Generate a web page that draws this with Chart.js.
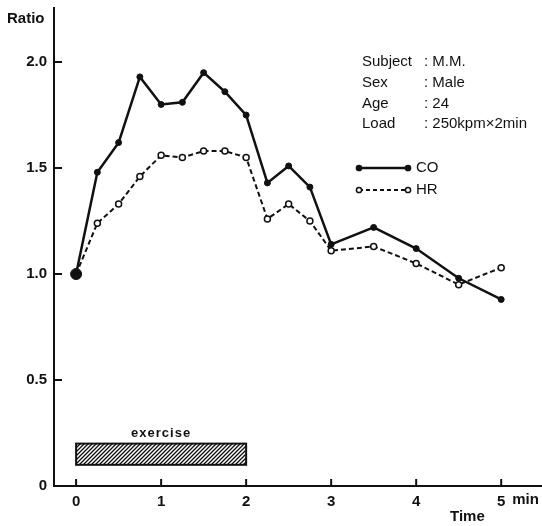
<!DOCTYPE html>
<html lang="en">
<head>
<meta charset="UTF-8">
<title>CO / HR ratio during exercise</title>
<script src="https://cdn.jsdelivr.net/npm/chart.js"></script>
<style>
    html, body {
        margin: 0;
        padding: 0;
        background: #fff;
        overflow: hidden;
    }

    canvas {
        display: block;
    }
</style>
</head>
<body>
<canvas id="ratioChart" width="542" height="526"></canvas>
<script>
// data
const timeMin = [0, 0.25, 0.5, 0.75, 1, 1.25, 1.5, 1.75, 2, 2.25, 2.5, 2.75, 3, 3.5, 4, 4.5, 5];
const coRatio = [1.0, 1.48, 1.62, 1.93, 1.80, 1.81, 1.95, 1.86, 1.75, 1.43, 1.51, 1.41, 1.14, 1.22, 1.12, 0.98, 0.88];
const hrRatio = [1.0, 1.24, 1.33, 1.46, 1.56, 1.55, 1.58, 1.58, 1.55, 1.26, 1.33, 1.25, 1.11, 1.13, 1.05, 0.95, 1.03];
const yTicks = [0, 0.5, 1.0, 1.5, 2.0];
const yTickLabels = ['0', '0.5', '1.0', '1.5', '2.0'];
const xTicks = [0, 1, 2, 3, 4, 5];
const exercisePeriod = [0, 2];
const exerciseBand = [0.1, 0.2];
const infoLabels = ['Subject', 'Sex', 'Age', 'Load'];
const infoValues = ['M.M.', 'Male', '24', '250kpm\u00d72min'];

const ink = '#111';
const fontFam = '"Liberation Sans", Arial, sans-serif';

function hatchPattern(ctx) {
    const c = document.createElement('canvas');
    c.width = 4;
    c.height = 4;
    const p = c.getContext('2d');
    p.strokeStyle = ink;
    p.lineWidth = 1.3;
    p.beginPath();
    p.moveTo(-1, 5); p.lineTo(5, -1);
    p.moveTo(-1, 1); p.lineTo(1, -1);
    p.moveTo(3, 5); p.lineTo(5, 3);
    p.stroke();
    return ctx.createPattern(c, 'repeat');
}

const decorations = {
    id: 'decorations',
    afterDatasetsDraw(chart) {
        const ctx = chart.ctx;
        const xs = chart.scales.x;
        const ys = chart.scales.y;
        ctx.save();

        // inward tick marks
        ctx.strokeStyle = ink;
        ctx.lineWidth = 2;
        ctx.beginPath();
        yTicks.forEach(v => {
            const py = ys.getPixelForValue(v);
            ctx.moveTo(xs.left, py);
            ctx.lineTo(xs.left + 8, py);
        });
        xTicks.forEach(v => {
            const px = xs.getPixelForValue(v);
            ctx.moveTo(px, ys.bottom);
            ctx.lineTo(px, ys.bottom - 7);
        });
        ctx.stroke();

        // exercise box
        const x0 = xs.getPixelForValue(exercisePeriod[0]);
        const x1 = xs.getPixelForValue(exercisePeriod[1]);
        const yTop = ys.getPixelForValue(exerciseBand[1]);
        const yBot = ys.getPixelForValue(exerciseBand[0]);
        ctx.fillStyle = hatchPattern(ctx);
        ctx.fillRect(x0, yTop, x1 - x0, yBot - yTop);
        ctx.lineWidth = 2;
        ctx.strokeRect(x0, yTop, x1 - x0, yBot - yTop);

        ctx.fillStyle = ink;
        ctx.font = 'bold 13px ' + fontFam;
        ctx.letterSpacing = '1px';
        ctx.textAlign = 'center';
        ctx.textBaseline = 'bottom';
        ctx.fillText('exercise', (x0 + x1) / 2, yTop - 4);
        ctx.letterSpacing = '0px';

        // axis titles
        ctx.font = 'bold 15px ' + fontFam;
        ctx.textAlign = 'left';
        ctx.textBaseline = 'middle';
        ctx.fillText('Ratio', 7, 19);
        ctx.fillText('Time', 450, 517);
        ctx.fillText('min', xs.getPixelForValue(5) + 11, 500);

        // subject info
        ctx.font = '15px ' + fontFam;
        infoLabels.forEach((lab, i) => {
            const py = 62 + i * 20.7;
            ctx.fillText(lab, 362, py);
            ctx.fillText(': ' + infoValues[i], 424, py);
        });

        // legend
        const legend = [
            { name: 'CO', y: 168, dash: [], fill: ink, width: 2.5 },
            { name: 'HR', y: 190, dash: [4, 3], fill: '#fff', width: 2 }
        ];
        legend.forEach(l => {
            ctx.setLineDash(l.dash);
            ctx.lineWidth = l.width;
            ctx.strokeStyle = ink;
            ctx.beginPath();
            ctx.moveTo(359, l.y);
            ctx.lineTo(408, l.y);
            ctx.stroke();
            ctx.setLineDash([]);
            ctx.lineWidth = 1.5;
            [359, 408].forEach(px => {
                ctx.beginPath();
                ctx.arc(px, l.y, 2.6, 0, Math.PI * 2);
                ctx.fillStyle = l.fill;
                ctx.fill();
                ctx.stroke();
            });
            ctx.fillStyle = ink;
            ctx.font = '15px ' + fontFam;
            ctx.fillText(l.name, 416, l.y);
        });

        ctx.restore();
    }
};

new Chart(document.getElementById('ratioChart'), {
    type: 'line',
    data: {
        datasets: [{
            label: 'CO',
            data: timeMin.map((t, i) => ({ x: t, y: coRatio[i] })),
            borderColor: ink,
            borderWidth: 2.5,
            pointBackgroundColor: ink,
            pointBorderColor: ink,
            pointBorderWidth: 1,
            pointRadius: timeMin.map((t, i) => i === 0 ? 5.5 : 3),
            tension: 0
        }, {
            label: 'HR',
            data: timeMin.map((t, i) => ({ x: t, y: hrRatio[i] })),
            borderColor: ink,
            borderWidth: 2,
            borderDash: [5, 3],
            pointBackgroundColor: '#fff',
            pointBorderColor: ink,
            pointBorderWidth: 1.5,
            pointRadius: 3,
            tension: 0
        }]
    },
    options: {
        responsive: false,
        animation: false,
        layout: { autoPadding: false, padding: { top: 8, left: 0, right: 0, bottom: 0 } },
        plugins: {
            legend: { display: false },
            tooltip: { enabled: false }
        },
        scales: {
            x: {
                type: 'linear',
                min: -0.26,
                max: 5.48,
                afterBuildTicks: s => { s.ticks = xTicks.map(v => ({ value: v })); },
                afterFit: s => { s.height = 40; s.paddingLeft = 0; s.paddingRight = 0; },
                grid: { display: false, drawTicks: false },
                border: { display: true, color: ink, width: 2 },
                ticks: {
                    color: ink,
                    padding: 7,
                    font: { family: fontFam, size: 15, weight: 'bold' },
                    maxRotation: 0
                }
            },
            y: {
                min: 0,
                max: 2.255,
                afterBuildTicks: s => { s.ticks = yTicks.map(v => ({ value: v })); },
                afterFit: s => { s.width = 54; s.paddingTop = 0; s.paddingBottom = 0; },
                grid: { display: false, drawTicks: false },
                border: { display: true, color: ink, width: 2 },
                ticks: {
                    color: ink,
                    padding: 7,
                    font: { family: fontFam, size: 15, weight: 'bold' },
                    callback: v => yTickLabels[yTicks.indexOf(v)]
                }
            }
        }
    },
    plugins: [decorations]
});
</script>
</body>
</html>
